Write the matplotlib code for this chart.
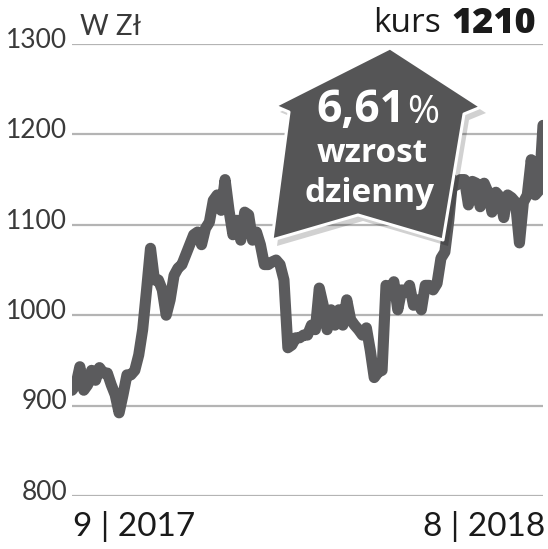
import numpy as np
import matplotlib
matplotlib.use("Agg")
import matplotlib.pyplot as plt
from matplotlib.patches import Polygon

# daily close, 9.2017 - 8.2018
kurs = [917, 923, 943, 917, 923, 939, 928, 942, 936, 936, 923, 912, 892, 912, 934,
        934, 939, 956, 984, 1028, 1074, 1039, 1039, 1028, 1000, 1017, 1044, 1052,
        1056, 1067, 1078, 1089, 1092, 1078, 1096, 1103, 1127, 1133, 1116, 1150, 1116,
        1089, 1105, 1083, 1114, 1111, 1083, 1092, 1078, 1056, 1056, 1059, 1061, 1056,
        1039, 964, 967, 975, 975, 978, 978, 989, 984, 1030, 1011, 984, 1006, 989, 1006,
        989, 1017, 995, 989, 984, 978, 986, 961, 931, 937, 939, 1033, 1026, 1037, 1006,
        1028, 1025, 1033, 1011, 1017, 1006, 1033, 1033, 1028, 1035, 1063, 1070, 1105,
        1150, 1144, 1150, 1150, 1122, 1148, 1146, 1120, 1146, 1136, 1114, 1136, 1131,
        1108, 1133, 1130, 1125, 1080, 1125, 1133, 1172, 1133, 1138, 1210]
y_ticks = [800, 900, 1000, 1100, 1200, 1300]
x_labels = ["9 | 2017", "8 | 2018"]
last_price = "1210"
change = "6,61"

W, H = 548, 549
fig = plt.figure(figsize=(W / 100, H / 100), dpi=100)
fig.patch.set_facecolor("white")

ax = fig.add_axes([72 / W, 1 - 496 / H, (543 - 72) / W, (496 - 44) / H])
ax.set_xlim(0, len(kurs) - 1)
ax.set_ylim(800, 1300)
ax.axis("off")
for t in y_ticks:
    ax.axhline(t, color="#b4b4b4", lw=1.6, zorder=1)
    ax.text(-1.2, t + 4, str(t), transform=ax.transData, ha="right", va="center",
            fontsize=19, color="#3a3a3a", family="Lato")
ax.plot(np.arange(len(kurs)), kurs, color="#5b5b5d", lw=8, solid_joinstyle="round",
        solid_capstyle="round", zorder=2)

# overlay in pixel coordinates for the badge and labels
ov = fig.add_axes([0, 0, 1, 1])
ov.set_xlim(0, W)
ov.set_ylim(H, 0)
ov.axis("off")

badge = [(390, 48), (481, 107), (464, 114), (443, 240), (358, 215),
         (272, 240), (289, 112), (275, 106)]
shadow = [(x + 5, y + 6) for x, y in badge]
ov.add_patch(Polygon(shadow, closed=True, facecolor="#000000", alpha=0.18,
                     edgecolor="none", zorder=3))
ov.add_patch(Polygon(badge, closed=True, facecolor="#555556", edgecolor="white",
                     lw=2.2, joinstyle="round", zorder=4))

ov.text(405, 111, change, ha="right", va="center", fontsize=32, fontweight="bold",
        color="white", family="Open Sans", zorder=5)
ov.text(407, 113, "%", ha="left", va="center", fontsize=28, color="white",
        family="Open Sans", zorder=5)
ov.text(372, 153, "wzrost", ha="center", va="center", fontsize=24, fontweight="bold",
        color="white", family="Open Sans", zorder=5)
ov.text(370, 193, "dzienny", ha="center", va="center", fontsize=24, fontweight="bold",
        color="white", family="Open Sans", zorder=5)

ov.text(80, 27, "W Zł", ha="left", va="center", fontsize=20, color="#3a3a3a",
        family="Lato")
ov.text(441, 24, "kurs", ha="right", va="center", fontsize=24, color="#1a1a1a",
        family="Open Sans")
ov.text(536, 24, last_price, ha="right", va="center", fontsize=26, fontweight="heavy",
        color="#1a1a1a", family="Open Sans")

ov.text(73, 527, x_labels[0], ha="left", va="center", fontsize=24, color="#1a1a1a",
        family="Lato")
ov.text(545, 527, x_labels[1], ha="right", va="center", fontsize=24, color="#1a1a1a",
        family="Lato")

fig.savefig("out.png", dpi=100)
